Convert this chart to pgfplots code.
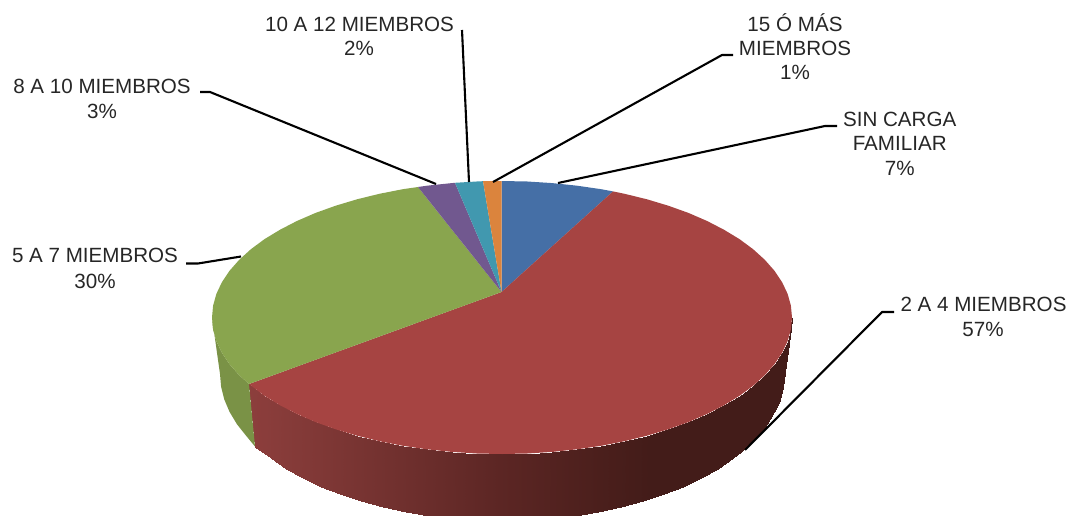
\documentclass[border=0pt]{standalone}
\usepackage{fontspec}
\setmainfont{Liberation Sans}
\usepackage{pgfplots}
\pgfplotsset{compat=1.18}

\definecolor{azul}{HTML}{456FA6}
\definecolor{rojo}{HTML}{A64442}
\definecolor{verde}{HTML}{89A54E}
\definecolor{verdelado}{HTML}{7A9246}
\definecolor{morado}{HTML}{71588F}
\definecolor{turquesa}{HTML}{4198AF}
\definecolor{naranja}{HTML}{DB843D}
\definecolor{texto}{HTML}{262626}

\tikzset{
  lab/.style={anchor=base,inner sep=0pt,text=texto,font=\fontsize{20.6}{24.7}\selectfont},
}
\pgfplotsset{
  cuna/.style={draw=none,fill=#1,forget plot},
  guia/.style={black,line width=2.1pt,line join=round,forget plot},
}
\newcommand{\lbl}[3]{\node[lab] at (axis cs:#1,#2) {#3};}

% lateral roja: borde superior / borde inferior, de derecha a izquierda
\pgfplotstableread{
x y
792 317.5
784 374
790.9 329.4
782.9 386.8
787.6 341.2
779.7 399.5
782.1 352.8
774.4 412
774.5 364.2
767 424.3
764.8 375.2
757.6 436.1
753.1 385.8
746.2 447.5
739.6 395.8
733 458.3
724.1 405.2
718 468.5
707.1 414
701.4 477.9
688.4 422.1
683.3 486.6
668.3 429.3
663.8 494.4
647 435.7
643 501.3
624.6 441.2
621.2 507.2
601.2 445.8
598.4 512.1
577.1 449.3
575 516
552.3 451.9
551 518.8
527.3 453.5
526.6 520.4
502 454
502 521
476.7 453.5
477.4 520.4
451.7 451.9
453 518.8
426.9 449.3
429 516
402.8 445.8
405.6 512.1
379.4 441.2
382.8 507.2
357 435.7
361 501.3
335.7 429.3
340.2 494.4
315.6 422.1
320.7 486.6
296.9 414
302.6 477.9
279.9 405.2
286 468.5
264.4 395.8
271 458.3
249 384
255 446.5
}\ladorojo

\begin{document}
\begin{tikzpicture}
\useasboundingbox (0,0) rectangle (1070pt,516pt);
\begin{axis}[
  at={(0,0)},anchor=south west,
  scale only axis,width=1070pt,height=516pt,
  xmin=0,xmax=1070,ymin=0,ymax=516,y dir=reverse,
  hide axis,
  point meta min=255,point meta max=790,
  colormap={ladorojo}{rgb255(0)=(140,62,60) rgb255(145)=(112,48,46) rgb255(245)=(92,38,36) rgb255(345)=(75,31,28) rgb255(395)=(67,28,25) rgb255(535)=(67,28,25)},
]
% lateral
\addplot[surf,shader=interp,mesh/cols=2,point meta=x,forget plot] table[x=x,y=y] {\ladorojo};
\addplot[cuna=verdelado] coordinates {(249,384)(239.2,375.2)(229.5,364.2)(221.9,352.8)(216.4,341.2)(213.1,329.4)(212,317.5)(220,374)(221.1,386.8)(224.3,399.5)(229.6,412)(237,424.3)(246.4,436.1)(255,446.5)} -- cycle;

% cara superior
\addplot[cuna=azul] coordinates {(501.5,292)(501.5,181)(527.3,181.5)(552.3,183.1)(577.1,185.7)(601.2,189.2)(613,191.4)} -- cycle;
\addplot[cuna=rojo] coordinates {(501.5,292)(613,191.4)(624.6,193.8)(647,199.3)(668.3,205.7)(688.4,212.9)(707.1,221)(724.1,229.8)(739.6,239.2)(753.1,249.2)(764.8,259.8)(774.5,270.8)(782.1,282.2)(787.6,293.8)(790.9,305.6)(792,317.5)(790.9,329.4)(787.6,341.2)(782.1,352.8)(774.5,364.2)(764.8,375.2)(753.1,385.8)(739.6,395.8)(724.1,405.2)(707.1,414)(688.4,422.1)(668.3,429.3)(647,435.7)(624.6,441.2)(601.2,445.8)(577.1,449.3)(552.3,451.9)(527.3,453.5)(502,454)(476.7,453.5)(451.7,451.9)(426.9,449.3)(402.8,445.8)(379.4,441.2)(357,435.7)(335.7,429.3)(315.6,422.1)(296.9,414)(279.9,405.2)(264.4,395.8)(249,384)} -- cycle;
\addplot[cuna=verde] coordinates {(501.5,292)(249,384)(239.2,375.2)(229.5,364.2)(221.9,352.8)(216.4,341.2)(213.1,329.4)(212,317.5)(213.1,305.6)(216.4,293.8)(221.9,282.2)(229.5,270.8)(239.2,259.8)(250.9,249.2)(264.4,239.2)(279.9,229.8)(296.9,221)(315.6,212.9)(335.7,205.7)(357,199.3)(379.4,193.8)(402.8,189.2)(418,187)} -- cycle;
\addplot[cuna=morado] coordinates {(501.5,292)(418,187)(426.9,185.7)(451.7,183.1)(455,182.8)} -- cycle;
\addplot[cuna=turquesa] coordinates {(501.5,292)(455,182.8)(476.7,181.5)(483,181.2)} -- cycle;
\addplot[cuna=naranja] coordinates {(501.5,292)(483,181.2)(501.5,181)} -- cycle;

% lineas guia
\addplot[guia] coordinates {(837,126)(825,126)(558,183)};
\addplot[guia] coordinates {(733,55)(722,55)(493,182)};
\addplot[guia] coordinates {(462,30)(469,182)};
\addplot[guia] coordinates {(200,92)(210,92)(436,184)};
\addplot[guia] coordinates {(186,263.5)(198,263.5)(241,256.5)};
\addplot[guia] coordinates {(894,312)(882,312)(745,450)};

% etiquetas
\lbl{359.5}{32}{10 A 12 MIEMBROS}
\lbl{359}{56}{2\%}
\lbl{102}{94}{8 A 10 MIEMBROS}
\lbl{102}{118}{3\%}
\lbl{795}{31.7}{15 Ó MÁS}
\lbl{795}{55.7}{MIEMBROS}
\lbl{795}{80}{1\%}
\lbl{899.7}{126}{SIN CARGA}
\lbl{899.7}{150.7}{FAMILIAR}
\lbl{899.7}{175}{7\%}
\lbl{95}{262.7}{5 A 7 MIEMBROS}
\lbl{95}{288}{30\%}
\lbl{983.5}{311.7}{2 A 4 MIEMBROS}
\lbl{983}{336.7}{57\%}
\end{axis}
\end{tikzpicture}
\end{document}
